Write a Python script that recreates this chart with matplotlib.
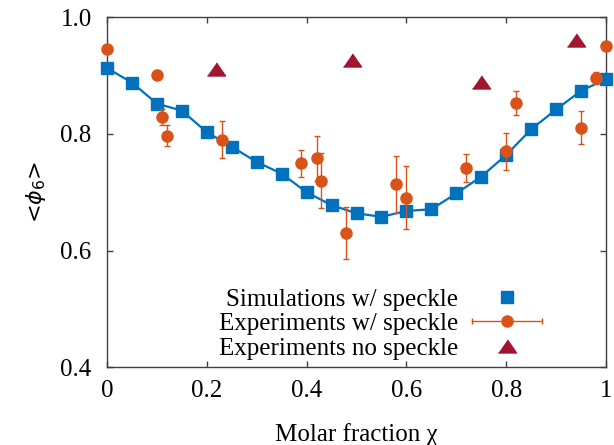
import numpy as np
import matplotlib
matplotlib.use("Agg")
import matplotlib.pyplot as plt
from matplotlib.lines import Line2D
from matplotlib.legend_handler import HandlerLine2D, HandlerTuple

plt.rcParams.update({
    "font.family": ["Liberation Serif", "DejaVu Serif"],
    "mathtext.fontset": "dejavusans",
    "font.size": 18,
})

BLUE = "#0072BD"
ORANGE = "#D95319"
RED = "#A2142F"

# simulations w/ speckle
sim_x = [0.0, 0.05, 0.10, 0.15, 0.20, 0.25, 0.30, 0.35, 0.40, 0.45, 0.50,
         0.55, 0.60, 0.65, 0.70, 0.75, 0.80, 0.85, 0.90, 0.95, 1.0]
sim_y = [0.913, 0.888, 0.852, 0.840, 0.803, 0.778, 0.752, 0.732, 0.700, 0.678, 0.664,
         0.658, 0.668, 0.671, 0.698, 0.727, 0.764, 0.808, 0.842, 0.874, 0.894]

# experiments w/ speckle
exp_x = [0.0, 0.100, 0.110, 0.120, 0.230, 0.389, 0.420, 0.428, 0.479, 0.579,
         0.599, 0.719, 0.800, 0.820, 0.950, 0.980, 1.0]
exp_y = [0.945, 0.901, 0.829, 0.797, 0.790, 0.750, 0.758, 0.720, 0.630, 0.714,
         0.691, 0.742, 0.770, 0.853, 0.811, 0.896, 0.950]
exp_err = [0.0, 0.006, 0.014, 0.018, 0.032, 0.023, 0.038, 0.047, 0.045, 0.049,
           0.054, 0.024, 0.032, 0.021, 0.028, 0.011, 0.0]

# experiments no speckle
nos_x = [0.219, 0.490, 0.749, 0.940]
nos_y = [0.911, 0.927, 0.889, 0.961]

tri = [(-1, -0.72), (1, -0.72), (0, 0.72)]

fig = plt.figure(figsize=(6.14, 4.45), dpi=100)
ax = fig.add_axes([0.1743, 0.1746, 0.8127, 0.7865])

ax.plot(sim_x, sim_y, color=BLUE, lw=1.6, marker="s", ms=9, mec=BLUE,
        clip_on=False, zorder=3)
ax.errorbar(exp_x, exp_y, yerr=exp_err, fmt="o", color=ORANGE, ms=8,
            ecolor=ORANGE, elinewidth=1.0, capsize=2.2, capthick=1.0,
            clip_on=False, zorder=4)
ax.plot(nos_x, nos_y, ls="none", marker=tri, ms=13, color=RED,
        clip_on=False, zorder=4)

ax.set_xlim(0, 1)
ax.set_ylim(0.4, 1.0)
ax.set_xticks([0, 0.2, 0.4, 0.6, 0.8, 1])
ax.set_xticklabels(["0", "0.2", "0.4", "0.6", "0.8", "1"])
ax.set_yticks([0.4, 0.6, 0.8, 1.0])
ax.set_yticklabels(["0.4", "0.6", "0.8", "1.0"])
ax.tick_params(direction="in", length=4, width=1, color="#404040",
               top=True, right=True)
ax.tick_params(axis="x", pad=9)
ax.tick_params(axis="y", pad=11)
for s in ax.spines.values():
    s.set_color("#404040")
    s.set_linewidth(1.0)

ax.set_xlabel("Molar fraction χ", labelpad=15)
ax.set_ylabel(r"<$\phi_6$>", family="DejaVu Sans", fontsize=16, labelpad=9)

# legend handles (gnuplot style: text left, symbol right)
h_sim = Line2D([], [], ls="none", marker="s", ms=9, color=BLUE)
h_cap = Line2D([], [], color=ORANGE, lw=1.0, marker="|", ms=5, mew=1.0)
h_dot = Line2D([], [], ls="none", marker="o", ms=8, color=ORANGE)
h_nos = Line2D([], [], ls="none", marker=tri, ms=13, color=RED)
ax.legend([h_sim, (h_cap, h_dot), h_nos],
          ["Simulations w/ speckle", "Experiments w/ speckle", "Experiments no speckle"],
          handler_map={h_cap: HandlerLine2D(numpoints=2),
                       tuple: HandlerTuple(ndivide=1)},
          markerfirst=False, frameon=False, loc="lower right",
          bbox_to_anchor=(0.922, -0.028), handlelength=3.4, handletextpad=0.25,
          labelspacing=0.08, borderpad=0.2, fontsize=18)

fig.savefig("out.png", dpi=100)
